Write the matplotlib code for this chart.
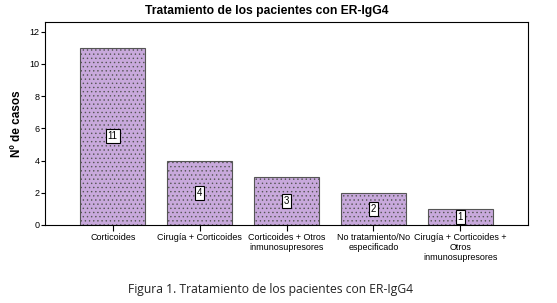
import matplotlib.pyplot as plt
import numpy as np

# Tratamiento de los pacientes con ER-IgG4
categorias = ['Corticoides', 'Cirugía + Corticoides', 'Corticoides + Otros\ninmunosupresores',
              'No tratamiento/No\nespecificado', 'Cirugía + Corticoides +\nOtros\ninmunosupresores']
casos = [11, 4, 3, 2, 1]
yticks = [0, 2, 4, 6, 8, 10, 12]

plt.rcParams['font.family'] = ['Liberation Sans', 'DejaVu Sans']
plt.rcParams['hatch.color'] = '#9c7cb4'
plt.rcParams['hatch.linewidth'] = 0.5

fig = plt.figure(figsize=(5.57, 3.03), dpi=100)
ax = fig.add_axes([45 / 557, 1 - 225 / 303, (528 - 45) / 557, (225 - 22) / 303])

x = np.arange(len(casos))
ax.bar(x, casos, width=0.75, color='#c8a9dc', edgecolor='#555555', linewidth=0.8, hatch='....')

for xi, v in zip(x, casos):
    ax.text(xi, v / 2, str(v), ha='center', va='center', fontsize=7,
            bbox=dict(boxstyle='square,pad=0.2', facecolor='white', edgecolor='black', linewidth=0.8))

ax.set_xlim(-0.78, 4.78)
ax.set_ylim(0, 12.6)
ax.set_yticks(yticks)
ax.set_xticks(x)
ax.set_xticklabels(categorias, fontsize=6.5, linespacing=1.1)
ax.tick_params(axis='y', labelsize=6.5, length=3, pad=1)
ax.tick_params(axis='x', length=4, pad=2)
for s in ax.spines.values():
    s.set_linewidth(0.8)

ax.set_ylabel('Nº de casos', fontsize=8.5, fontweight='bold', labelpad=5)
fig.text(267 / 557, 1 - 11 / 303, 'Tratamiento de los pacientes con ER-IgG4',
         ha='center', va='center', fontsize=8.7, fontweight='bold')

fig.text(271 / 557, 1 - 289 / 303, 'Figura 1. Tratamiento de los pacientes con ER-IgG4',
         ha='center', va='center', fontsize=8.7, family='Open Sans', color='#222222')

fig.savefig('out.png', dpi=100)
